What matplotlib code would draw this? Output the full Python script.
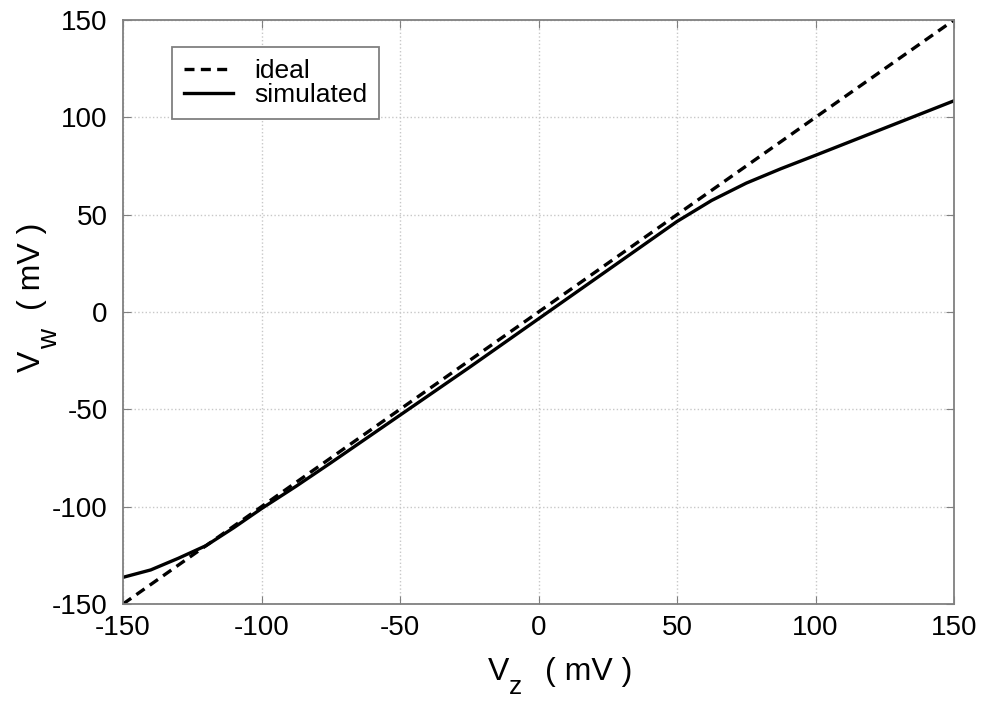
import matplotlib
matplotlib.use("Agg")
import matplotlib.pyplot as plt

plt.rcParams['font.family'] = ['Liberation Sans', 'DejaVu Sans']
plt.rcParams['axes.unicode_minus'] = False

vz = [-150, -140, -130, -120, -110, -100, -87.5, -75, -50, -25, 0, 25, 37.5, 50, 62.5, 75, 87.5, 100, 112.5, 125, 137.5, 150]
vw_sim = [-136.3, -132.5, -126.5, -120, -110.8, -101, -89.5, -77.5, -53, -28.5, -3.5, 21.5, 34, 46.5, 57.3, 66.2, 73.6, 80.5, 87.5, 94.5, 101.5, 108.5]
ideal_x = [-150, 150]
ideal_y = [-150, 150]
ticks = [-150, -100, -50, 0, 50, 100, 150]

W, H = 984, 702
fig = plt.figure(figsize=(W / 100, H / 100), dpi=100)
ax = fig.add_axes([123/W, 1 - 604/H, (954-123)/W, (604-20)/H])

ax.plot(ideal_x, ideal_y, 'k--', lw=2.4, dashes=(3.0, 1.9), label='ideal')
ax.plot(vz, vw_sim, 'k-', lw=2.4, label='simulated')

ax.set_xlim(-150, 150)
ax.set_ylim(-150, 150)
ax.set_xticks(ticks)
ax.set_yticks(ticks)
ax.grid(True, color='#c8c8c8', linestyle=':', lw=1.0)
for s in ax.spines.values():
    s.set_color('#808080')
    s.set_linewidth(1.3)
ax.tick_params(direction='in', color='#808080', length=6, labelsize=20,
               top=True, right=True)
ax.tick_params(axis='x', pad=8)
ax.tick_params(axis='y', pad=11)

# axis labels with deep subscripts (placed in figure pixel coordinates)
def px(x, y):
    return x / W, 1 - y / H

lab = dict(fontsize=23, ha='left', va='baseline')
fig.text(*px(488, 680), 'V', **lab)
fig.text(*px(509, 694), 'z', fontsize=19, ha='left', va='baseline')
fig.text(*px(545, 680), '( mV )', **lab)

rot = dict(rotation=90, rotation_mode='anchor', ha='left', va='baseline')
fig.text(*px(40, 372), 'V', fontsize=23, **rot)
fig.text(*px(57, 349), 'w', fontsize=20, **rot)
fig.text(*px(40, 310), '( mV )', fontsize=23, **rot)

leg = ax.legend(loc='upper left', bbox_to_anchor=((172-123)/831, 1 - 27/584),
                borderaxespad=0, fontsize=19,
                fancybox=False, framealpha=1, edgecolor='#808080',
                handlelength=1.85, borderpad=0.45, labelspacing=0.0, handletextpad=0.8)
leg.get_frame().set_linewidth(1.3)

fig.savefig('out.png', dpi=100)
